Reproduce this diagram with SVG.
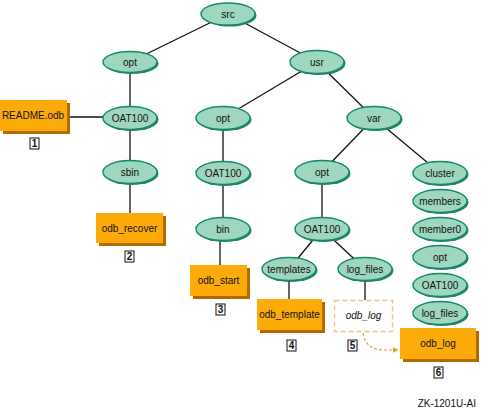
<svg xmlns="http://www.w3.org/2000/svg" width="481" height="410" viewBox="0 0 481 410">
<defs>
<style>
.e{fill:#9fd6be;stroke:#108a6d;stroke-width:1.4}
.es{fill:#2a7f68}
.b{fill:#fdab0a}
.bs{fill:#b36b00}
.t{font-family:"Liberation Sans",Arial,sans-serif;font-size:10px;fill:#111;text-anchor:middle}
.n{font-family:"Liberation Sans",Arial,sans-serif;font-size:10px;font-weight:bold;fill:#111;text-anchor:middle}
.nb{fill:#fff;stroke:#111;stroke-width:1}
.l{stroke:#111;stroke-width:1.3;fill:none}
</style>
<marker id="ah" viewBox="0 0 10 10" refX="9" refY="5" markerWidth="6" markerHeight="6" orient="auto" markerUnits="userSpaceOnUse"><path d="M0,0L10,5L0,10z" fill="#e0a030"/></marker>
</defs>
<rect width="481" height="410" fill="#fff"/>
<g id="connectors">
<line class="l" x1="228" y1="14" x2="130" y2="62"/>
<line class="l" x1="228" y1="14" x2="317" y2="62"/>
<line class="l" x1="130" y1="62" x2="130" y2="118"/>
<line class="l" x1="33" y1="117" x2="130" y2="117"/>
<line class="l" x1="130" y1="118" x2="130" y2="172"/>
<line class="l" x1="130" y1="172" x2="130" y2="220"/>
<line class="l" x1="317" y1="62" x2="223" y2="118"/>
<line class="l" x1="317" y1="62" x2="374" y2="118"/>
<line class="l" x1="223" y1="118" x2="223" y2="173"/>
<line class="l" x1="223" y1="173" x2="223" y2="229"/>
<line class="l" x1="220" y1="235" x2="220" y2="275"/>
<line class="l" x1="374" y1="118" x2="322" y2="172"/>
<line class="l" x1="374" y1="118" x2="440" y2="173"/>
<line class="l" x1="322" y1="172" x2="322" y2="229"/>
<line class="l" x1="322" y1="229" x2="289" y2="269"/>
<line class="l" x1="322" y1="229" x2="365" y2="269"/>
<line class="l" x1="289" y1="269" x2="289" y2="305"/>
<line class="l" x1="365" y1="269" x2="365" y2="300"/>
<path d="M363,333 C365,345 372,350 385,350 L398,350" fill="none" stroke="#e0a030" stroke-width="1.2" stroke-dasharray="3,2" marker-end="url(#ah)"/>
</g>
<g id="n-src"><ellipse class="es" cx="229.5" cy="15.5" rx="27" ry="11"/><ellipse class="e" cx="228" cy="14" rx="27" ry="11"/><text class="t" x="228" y="17.5">src</text></g>
<g id="n-opt1"><ellipse class="es" cx="131.5" cy="63.5" rx="27" ry="10.5"/><ellipse class="e" cx="130" cy="62" rx="27" ry="10.5"/><text class="t" x="130" y="65.5">opt</text></g>
<g id="n-oat1"><ellipse class="es" cx="131.5" cy="119.5" rx="27" ry="11.5"/><ellipse class="e" cx="130" cy="118" rx="27" ry="11.5"/><text class="t" x="130" y="121.5">OAT100</text></g>
<g id="n-sbin"><ellipse class="es" cx="131.5" cy="173.5" rx="27" ry="11.5"/><ellipse class="e" cx="130" cy="172" rx="27" ry="11.5"/><text class="t" x="130" y="175.5">sbin</text></g>
<g id="n-readme"><rect class="bs" x="3" y="103" width="67" height="31"/><rect class="b" x="0" y="100" width="67" height="31"/><text class="t" x="33" y="119">README.odb</text><rect class="nb" x="30" y="138" width="9" height="11"/><text class="n" x="34.5" y="147">1</text></g>
<g id="n-recover"><rect class="bs" x="99" y="216" width="67" height="30"/><rect class="b" x="96" y="213" width="67" height="30"/><text class="t" x="129.5" y="232">odb_recover</text><rect class="nb" x="125" y="251" width="9" height="11"/><text class="n" x="129.5" y="260">2</text></g>
<g id="n-usr"><ellipse class="es" cx="318.5" cy="63.5" rx="27" ry="11.5"/><ellipse class="e" cx="317" cy="62" rx="27" ry="11.5"/><text class="t" x="317" y="65.5">usr</text></g>
<g id="n-opt2"><ellipse class="es" cx="224.5" cy="119.5" rx="27" ry="11.5"/><ellipse class="e" cx="223" cy="118" rx="27" ry="11.5"/><text class="t" x="223" y="121.5">opt</text></g>
<g id="n-var"><ellipse class="es" cx="375.5" cy="119.5" rx="27" ry="11.5"/><ellipse class="e" cx="374" cy="118" rx="27" ry="11.5"/><text class="t" x="374" y="121.5">var</text></g>
<g id="n-oat2"><ellipse class="es" cx="224.5" cy="174.5" rx="27" ry="11.5"/><ellipse class="e" cx="223" cy="173" rx="27" ry="11.5"/><text class="t" x="223" y="176.5">OAT100</text></g>
<g id="n-bin"><ellipse class="es" cx="224.5" cy="230.5" rx="27" ry="11.5"/><ellipse class="e" cx="223" cy="229" rx="27" ry="11.5"/><text class="t" x="223" y="232.5">bin</text></g>
<g id="n-start"><rect class="bs" x="193" y="268" width="57" height="31"/><rect class="b" x="190" y="265" width="57" height="31"/><text class="t" x="218.5" y="284">odb_start</text><rect class="nb" x="216" y="304" width="9" height="11"/><text class="n" x="220.5" y="313">3</text></g>
<g id="n-opt3"><ellipse class="es" cx="323.5" cy="173.5" rx="27" ry="11.5"/><ellipse class="e" cx="322" cy="172" rx="27" ry="11.5"/><text class="t" x="322" y="175.5">opt</text></g>
<g id="n-oat3"><ellipse class="es" cx="323.5" cy="230.5" rx="27" ry="11.5"/><ellipse class="e" cx="322" cy="229" rx="27" ry="11.5"/><text class="t" x="322" y="232.5">OAT100</text></g>
<g id="n-templates"><ellipse class="es" cx="290.5" cy="270.5" rx="27" ry="11.5"/><ellipse class="e" cx="289" cy="269" rx="27" ry="11.5"/><text class="t" x="289" y="272.5">templates</text></g>
<g id="n-logfiles1"><ellipse class="es" cx="366.5" cy="270.5" rx="27" ry="11.5"/><ellipse class="e" cx="365" cy="269" rx="27" ry="11.5"/><text class="t" x="365" y="272.5">log_files</text></g>
<g id="n-template"><rect class="bs" x="260" y="302" width="65" height="31"/><rect class="b" x="257" y="299" width="65" height="31"/><text class="t" x="289.5" y="318">odb_template</text><rect class="nb" x="287" y="340" width="9" height="11"/><text class="n" x="291.5" y="349">4</text></g>
<g id="n-log5"><rect x="334.5" y="300.5" width="58" height="31" fill="#fff" stroke="#ebc680" stroke-width="1.3" stroke-dasharray="5,3"/><text class="t" x="363.5" y="319" font-style="italic">odb_log</text><rect class="nb" x="348" y="340" width="9" height="11"/><text class="n" x="352.5" y="349">5</text></g>
<g id="n-cluster"><ellipse class="es" cx="441.5" cy="174.5" rx="27" ry="11.5"/><ellipse class="e" cx="440" cy="173" rx="27" ry="11.5"/><text class="t" x="440" y="176.5">cluster</text></g>
<g id="n-members"><ellipse class="es" cx="441.5" cy="202.5" rx="27" ry="11.5"/><ellipse class="e" cx="440" cy="201" rx="27" ry="11.5"/><text class="t" x="440" y="204.5">members</text></g>
<g id="n-member0"><ellipse class="es" cx="441.5" cy="230.5" rx="27" ry="11.5"/><ellipse class="e" cx="440" cy="229" rx="27" ry="11.5"/><text class="t" x="440" y="232.5">member0</text></g>
<g id="n-opt4"><ellipse class="es" cx="441.5" cy="258.5" rx="27" ry="11.5"/><ellipse class="e" cx="440" cy="257" rx="27" ry="11.5"/><text class="t" x="440" y="260.5">opt</text></g>
<g id="n-oat4"><ellipse class="es" cx="441.5" cy="286.5" rx="27" ry="11.5"/><ellipse class="e" cx="440" cy="285" rx="27" ry="11.5"/><text class="t" x="440" y="288.5">OAT100</text></g>
<g id="n-logfiles2"><ellipse class="es" cx="441.5" cy="314.5" rx="27" ry="11.5"/><ellipse class="e" cx="440" cy="313" rx="27" ry="11.5"/><text class="t" x="440" y="316.5">log_files</text></g>
<g id="n-log6"><rect class="bs" x="403" y="331" width="76" height="31"/><rect class="b" x="400" y="328" width="76" height="31"/><text class="t" x="438" y="347">odb_log</text><rect class="nb" x="434" y="367" width="9" height="11"/><text class="n" x="438.5" y="376">6</text></g>
<text class="t" x="476" y="407" style="text-anchor:end">ZK-1201U-AI</text>
</svg>
